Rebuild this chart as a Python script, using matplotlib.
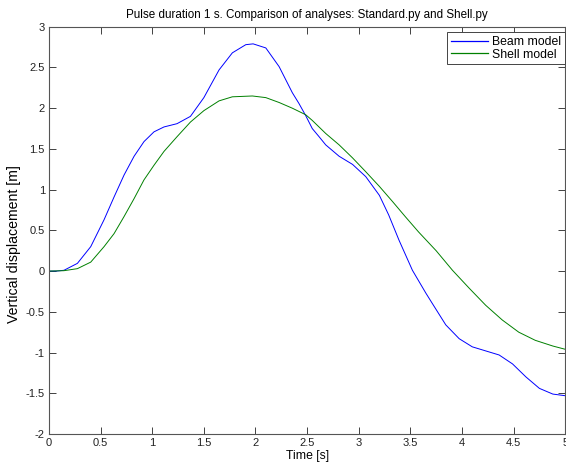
import matplotlib

matplotlib.use("Agg")
import matplotlib.pyplot as plt

# values (time [s], displacement [m])
beam_time = [
    0.0, 0.07, 0.145, 0.275, 0.404, 0.533, 0.63, 0.727, 0.824, 0.92, 1.017,
    1.114, 1.24, 1.37, 1.5, 1.647, 1.776, 1.906, 1.977, 2.10, 2.229, 2.357,
    2.42, 2.486, 2.55, 2.616, 2.68, 2.81, 2.94, 3.068, 3.2, 3.29, 3.39, 3.52,
    3.65, 3.714, 3.843, 3.973, 4.1, 4.23, 4.36, 4.49, 4.62, 4.75, 4.88, 5.0,
]
beam_disp = [
    0.0, 0.0, 0.01, 0.095, 0.30, 0.63, 0.91, 1.18, 1.41, 1.59, 1.71,
    1.77, 1.81, 1.90, 2.13, 2.47, 2.68, 2.78, 2.79, 2.74, 2.51, 2.19,
    2.06, 1.91, 1.75, 1.65, 1.55, 1.41, 1.31, 1.16, 0.93, 0.69, 0.38, 0.01,
    -0.27, -0.40, -0.66, -0.83, -0.93, -0.98, -1.03, -1.14, -1.30, -1.44, -1.51, -1.53,
]
shell_time = [
    0.0, 0.145, 0.275, 0.404, 0.533, 0.63, 0.727, 0.824, 0.92, 1.017, 1.114,
    1.24, 1.37, 1.5, 1.647, 1.776, 1.97, 2.10, 2.229, 2.357, 2.486, 2.55,
    2.68, 2.81, 2.94, 3.068, 3.2, 3.33, 3.45, 3.58, 3.75, 3.908, 4.07, 4.23,
    4.39, 4.55, 4.71, 4.88, 5.0,
]
shell_disp = [
    0.0, 0.005, 0.03, 0.11, 0.30, 0.46, 0.67, 0.89, 1.12, 1.30, 1.47,
    1.65, 1.83, 1.97, 2.09, 2.14, 2.15, 2.13, 2.07, 2.00, 1.92, 1.85,
    1.69, 1.55, 1.39, 1.22, 1.04, 0.85, 0.67, 0.48, 0.25, 0.01, -0.21, -0.42,
    -0.60, -0.75, -0.85, -0.92, -0.96,
]
x_ticks = [0, 0.5, 1, 1.5, 2, 2.5, 3, 3.5, 4, 4.5, 5]
x_tick_labels = ["0", "0.5", "1", "1.5", "2", "2.5", "3", "3.5", "4", "4.5", "5"]
y_ticks = [-2, -1.5, -1, -0.5, 0, 0.5, 1, 1.5, 2, 2.5, 3]
y_tick_labels = ["-2", "-1.5", "-1", "-0.5", "0", "0.5", "1", "1.5", "2", "2.5", "3"]

plt.rcParams["font.family"] = ["Liberation Sans", "DejaVu Sans"]
plt.rcParams["font.size"] = 8

fig = plt.figure(figsize=(5.66, 4.67), dpi=100)
ax = fig.add_axes([0.0866, 0.0707, 0.912, 0.872])

ax.plot(beam_time, beam_disp, color="#0000ff", lw=0.7, label="Beam model")
ax.plot(shell_time, shell_disp, color="#008000", lw=0.7, label="Shell model")

ax.set_xlim(0, 5)
ax.set_ylim(-2, 3)
ax.set_xticks(x_ticks, x_tick_labels)
ax.set_yticks(y_ticks, y_tick_labels)
ax.tick_params(direction="in", top=True, right=True, length=5, width=0.6,
               colors="#222222", pad=3, labelsize=8)
for sp in ax.spines.values():
    sp.set_color("#555555")
    sp.set_linewidth(0.8)

ax.set_xlabel("Time [s]", fontsize=8.8, labelpad=1)
ax.set_ylabel("Vertical displacement [m]", fontsize=10.2)
# matlab puts the y label a bit below the axes centre
ax.yaxis.set_label_coords(-0.055, 0.467)
ax.set_title("Pulse duration 1 s. Comparison of analyses: Standard.py and Shell.py",
             fontsize=8.4, pad=6)

leg = ax.legend(loc="upper right", bbox_to_anchor=(1.0, 0.986), borderaxespad=0,
                fancybox=False, framealpha=1, fontsize=8.8, handlelength=3.0,
                borderpad=0.3, labelspacing=0.05, handletextpad=0.4)
leg.get_frame().set_edgecolor("#444444")
leg.get_frame().set_linewidth(0.7)
for line, col in zip(leg.get_lines(), ["#0000ff", "#008000"]):
    line.set_color(col)
    line.set_linewidth(0.9)

fig.savefig("out.png", dpi=100)
